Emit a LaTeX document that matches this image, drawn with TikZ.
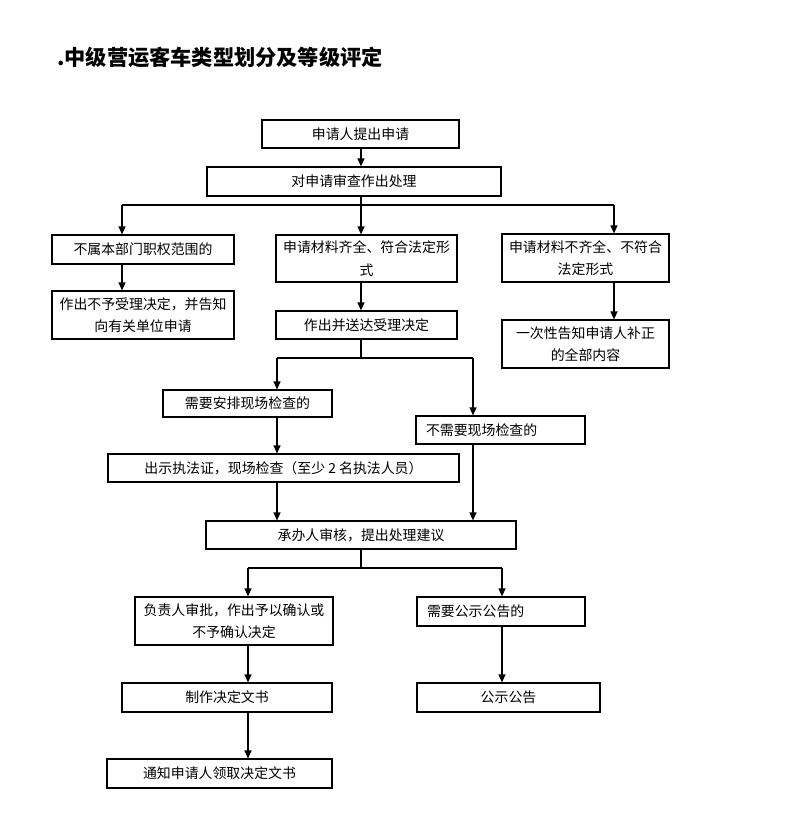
\documentclass[tikz,border=0pt]{standalone}
\usepackage{fontspec}
\newfontfamily\cjk{Noto Sans CJK SC}
\usetikzlibrary{arrows.meta}
\begin{document}
\begin{tikzpicture}[x=1pt,y=-1pt,
  box/.style={draw,line width=1.2pt,inner sep=0pt,font=\cjk\fontsize{13.9}{22.5}\selectfont,align=center},
  lbox/.style={box,align=left,inner xsep=10pt},
  arr/.style={line width=1.2pt,-{Triangle[length=8pt,width=7pt]}},
  ln/.style={line width=1.2pt}]
\useasboundingbox (0,0) rectangle (792,833);
\node[anchor=west,inner sep=0pt,font=\cjk\bfseries\fontsize{21.2}{24}\selectfont] (title) at (57,57) {.中级营运客车类型划分及等级评定};

\node[box,minimum width=197pt,minimum height=28pt] (b1) at (360.5,134) {申请人提出申请};
\node[box,minimum width=294pt,minimum height=29pt] (b2) at (354,181.5) {对申请审查作出处理};
\node[box,minimum width=182pt,minimum height=29pt] (l1) at (143,249.5) {不属本部门职权范围的};
\node[box,minimum width=182pt,minimum height=48pt] (l2) at (143,315) {作出不予受理决定，并告知\\向有关单位申请};
\node[box,minimum width=181pt,minimum height=47pt] (m1) at (366.5,258.5) {申请材料齐全、符合法定形\\式};
\node[box,minimum width=181pt,minimum height=28pt] (m2) at (366.5,325) {作出并送达受理决定};
\node[box,minimum width=167pt,minimum height=48pt] (r1) at (585.5,258) {申请材料不齐全、不符合\\法定形式};
\node[box,minimum width=167pt,minimum height=48pt] (r2) at (585.5,344) {一次性告知申请人补正\\的全部内容};
\node[box,minimum width=169pt,minimum height=27pt] (a1) at (247.5,403.5) {需要安排现场检查的};
\node[lbox,text width=149pt,minimum height=28pt] (a2) at (500.5,430) {不需要现场检查的};
\node[box,minimum width=351pt,minimum height=28pt] (a3) at (283.5,468) {出示执法证，现场检查（至少 2 名执法人员）};
\node[box,minimum width=310pt,minimum height=28pt] (c1) at (361,535) {承办人审核，提出处理建议};
\node[box,minimum width=198pt,minimum height=48pt] (d1) at (234,621) {负责人审批，作出予以确认或\\不予确认决定};
\node[lbox,text width=148pt,minimum height=29pt] (e1) at (501,611.5) {需要公示公告的};
\node[box,minimum width=210pt,minimum height=29pt] (d2) at (227,697.5) {制作决定文书};
\node[box,minimum width=183pt,minimum height=29pt] (e2) at (508.5,697.5) {公示公告};
\node[box,minimum width=225pt,minimum height=29pt] (d3) at (219.5,773.5) {通知申请人领取决定文书};

\coordinate (j0) at (361,205);
\coordinate (jl) at (122,205);
\coordinate (jr) at (614,205);
\draw[arr] (b1.south -| j0) -- (b2.north -| j0);
\draw[ln] (b2.south -| j0) -- (j0);
\draw[ln] (jl) -- (jr);
\draw[arr] (jl) -- (l1.north -| jl);
\draw[arr] (j0) -- (m1.north -| j0);
\draw[arr] (jr) -- (r1.north -| jr);
\draw[arr] (l1.south -| jl) -- (l2.north -| jl);
\draw[arr] (m1.south -| j0) -- (m2.north -| j0);
\draw[arr] (r1.south -| jr) -- (r2.north -| jr);

\coordinate (k0) at (361,358);
\coordinate (kl) at (277,358);
\coordinate (kr) at (473,358);
\draw[ln] (m2.south -| k0) -- (k0);
\draw[ln] (kl) -- (kr);
\draw[arr] (kl) -- (a1.north -| kl);
\draw[arr] (kr) -- (a2.north -| kr);
\draw[arr] (a1.south -| kl) -- (a3.north -| kl);
\draw[arr] (a3.south -| kl) -- (c1.north -| kl);
\draw[arr] (a2.south -| kr) -- (c1.north -| kr);

\coordinate (n0) at (361,568);
\coordinate (nl) at (248,568);
\coordinate (nr) at (502,568);
\draw[ln] (c1.south -| n0) -- (n0);
\draw[ln] (nl) -- (nr);
\draw[arr] (nl) -- (d1.north -| nl);
\draw[arr] (nr) -- (e1.north -| nr);
\draw[arr] (d1.south -| nl) -- (d2.north -| nl);
\draw[arr] (d2.south -| nl) -- (d3.north -| nl);
\draw[arr] (e1.south -| nr) -- (e2.north -| nr);
\end{tikzpicture}
\end{document}
